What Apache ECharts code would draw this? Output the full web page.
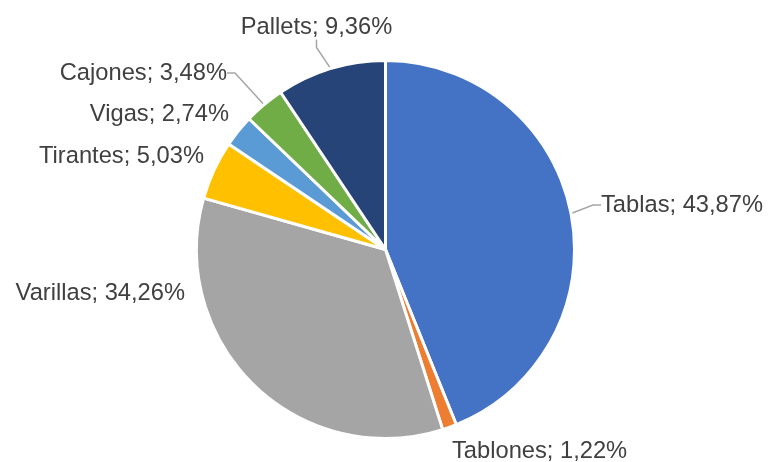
<!DOCTYPE html>
<html><head><meta charset="utf-8">
<script src="https://cdn.jsdelivr.net/npm/echarts@6/dist/echarts.min.js"></script>
<style>html,body{margin:0;padding:0;background:#fff}#c{width:768px;height:462px}</style>
</head><body><div id="c"></div>
<script>
const categories = ['Tablas','Tablones','Varillas','Tirantes','Vigas','Cajones','Pallets'];
const values = [43.87, 1.22, 34.26, 5.03, 2.74, 3.48, 9.36];
const colors = ['#4472C4','#ED7D31','#A5A5A5','#FFC000','#5B9BD5','#70AD47','#264478'];
const showLine = [true, false, false, false, false, true, true];
// label anchor positions (x, y, align)
const labelPos = [
  [601, 205, 'left'],
  [452, 451, 'left'],
  [185, 293, 'right'],
  [204, 156, 'right'],
  [229, 114, 'right'],
  [227, 73, 'right'],
  [316.5, 27.5, 'center']
];
const chart = echarts.init(document.getElementById('c'));
chart.setOption({
  animation: false,
  series: [{
    type: 'pie',
    center: [385.5, 249.5],
    radius: 189,
    startAngle: 90,
    clockwise: true,
    data: categories.map((n, i) => ({
      name: n, value: values[i],
      itemStyle: {color: colors[i]},
      labelLine: {show: showLine[i]}
    })),
    itemStyle: {borderColor: '#fff', borderWidth: 3},
    label: {
      show: true,
      formatter: p => p.name + '; ' + p.value.toFixed(2).replace('.', ',') + '%',
      fontFamily: 'Liberation Sans, Arial, sans-serif',
      fontSize: 23.7,
      color: '#404040'
    },
    labelLine: {show: true, length: 8, length2: 8, lineStyle: {color: '#A6A6A6', width: 1.5}},
    labelLayout: p => {
      const lp = labelPos[p.dataIndex];
      return {x: lp[0], y: lp[1], align: lp[2], verticalAlign: 'middle'};
    }
  }]
});
</script></body></html>
